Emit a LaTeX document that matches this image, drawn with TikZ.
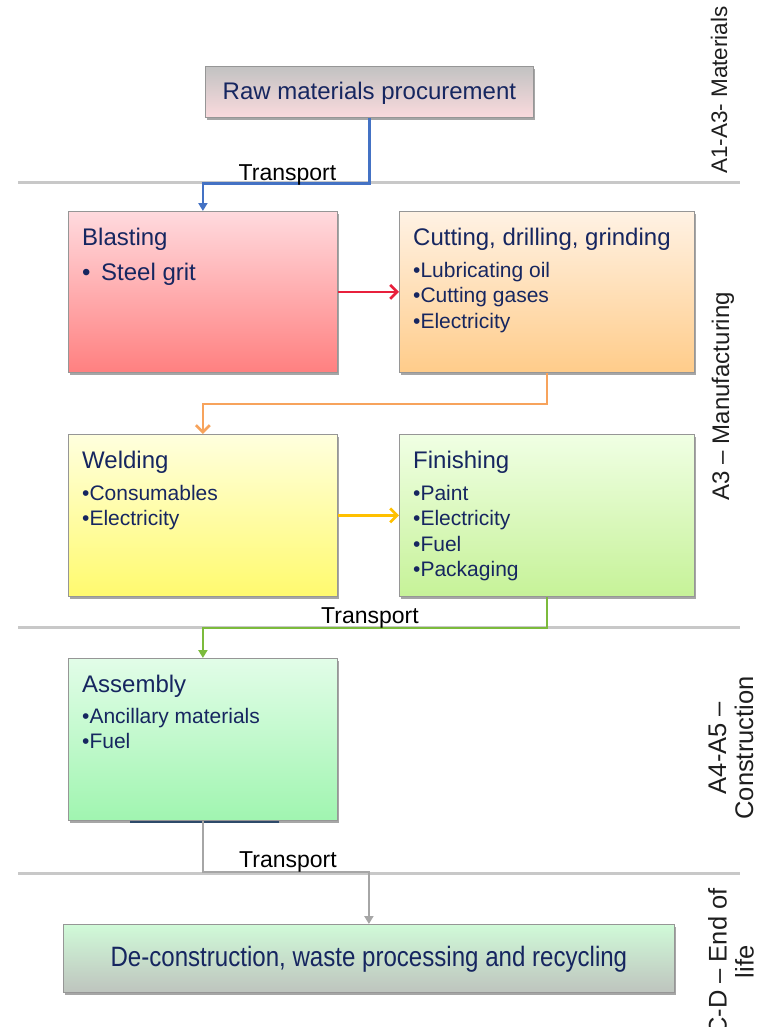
\documentclass[tikz,border=0pt]{standalone}
\usepackage{fontspec}
\setmainfont{Liberation Sans}
\usetikzlibrary{arrows.meta,shadows}
\definecolor{navy}{RGB}{22,38,96}
\definecolor{boxline}{RGB}{150,150,150}
\definecolor{sectgray}{RGB}{200,200,200}
\definecolor{cblue}{RGB}{68,114,196}
\definecolor{cred}{RGB}{232,32,60}
\definecolor{corange}{RGB}{247,163,92}
\definecolor{cyellow}{RGB}{255,192,0}
\definecolor{cgreen}{RGB}{124,187,60}
\definecolor{cgray}{RGB}{166,166,166}
\definecolor{darkline}{RGB}{46,74,106}
\definecolor{labeltxt}{RGB}{30,30,30}
\begin{document}
\begin{tikzpicture}[x=1pt,y=-1pt,
  box/.style={draw=boxline, line width=0.8pt, inner sep=0pt, anchor=north west,
    drop shadow={shadow xshift=2pt,shadow yshift=-2.5pt,opacity=0.35,fill=black}},
  title/.style={anchor=base west, inner sep=0pt, text=navy, font=\fontsize{24}{28}\selectfont},
  item/.style={anchor=base west, inner sep=0pt, text=navy, font=\fontsize{21}{25}\selectfont},
  sect/.style={rotate=90, text=labeltxt, align=center, inner sep=0pt},
  sectline/.style={draw=sectgray, line width=3pt},
  conn/.style={line width=2.6pt},
  filltip/.style={-{Triangle[length=8pt,width=9pt]}},
  barbtip/.style={-{Straight Barb[length=7pt,width=14pt]}},
  trans/.style={anchor=base, inner sep=0pt, text=black, font=\fontsize{23}{27}\selectfont}
]
\useasboundingbox (0,0) rectangle (763,1027);

% section separators
\coordinate (s1a) at (18,183); \coordinate (s1b) at (740,183);
\coordinate (s2a) at (18,627); \coordinate (s2b) at (740,627);
\coordinate (s3a) at (18,873); \coordinate (s3b) at (740,873);
\draw[sectline] (s1a) -- (s1b);
\draw[sectline] (s2a) -- (s2b);
\draw[sectline] (s3a) -- (s3b);

% boxes
\node[box, minimum width=328pt, minimum height=51pt, top color={rgb,255:red,194;green,194;blue,194}, bottom color={rgb,255:red,250;green,218;blue,221}] (raw) at (205,66) {};
\node[text=navy, font=\fontsize{24}{28}\selectfont, inner sep=0pt] (rawT) at ([yshift=-1pt]raw.center) {Raw materials procurement};

\node[box, minimum width=269pt, minimum height=161pt, top color={rgb,255:red,255;green,218;blue,222}, bottom color={rgb,255:red,255;green,128;blue,128}] (blast) at (68,211) {};
\node[box, minimum width=295pt, minimum height=161pt, top color={rgb,255:red,255;green,242;blue,228}, bottom color={rgb,255:red,255;green,204;blue,138}] (cut) at (399,211) {};
\node[box, minimum width=269pt, minimum height=162pt, top color={rgb,255:red,255;green,255;blue,222}, bottom color={rgb,255:red,255;green,250;blue,110}] (weld) at (68,434) {};
\node[box, minimum width=295pt, minimum height=162pt, top color={rgb,255:red,240;green,255;blue,228}, bottom color={rgb,255:red,198;green,242;blue,152}] (fin) at (399,434) {};
\node[box, minimum width=269pt, minimum height=162pt, top color={rgb,255:red,226;green,253;blue,232}, bottom color={rgb,255:red,160;green,245;blue,176}] (asm) at (68,658) {};
\node[box, minimum width=611pt, minimum height=68pt, top color={rgb,255:red,208;green,250;blue,216}, middle color={rgb,255:red,198;green,232;blue,200}, bottom color={rgb,255:red,190;green,196;blue,190}] (dec) at (63,924) {};
\node[text=navy, font=\fontsize{28}{32}\selectfont, inner sep=0pt, xscale=0.86] (decT) at ([yshift=-1pt]dec.center) {De-construction, waste processing and recycling};

% box texts
\node[title] (blastT) at ([xshift=14pt,yshift=-34pt]blast.north west) {Blasting};
\node[title] (blastI1) at ([xshift=14pt,yshift=-69pt]blast.north west) {\makebox[19pt][l]{•}Steel grit};

\node[title] (cutT) at ([xshift=14pt,yshift=-34pt]cut.north west) {Cutting, drilling, grinding};
\node[item] (cutI1) at ([xshift=14pt,yshift=-66pt]cut.north west) {•Lubricating oil};
\node[item] (cutI2) at ([xshift=14pt,yshift=-91.5pt]cut.north west) {•Cutting gases};
\node[item] (cutI3) at ([xshift=14pt,yshift=-117pt]cut.north west) {•Electricity};

\node[title] (weldT) at ([xshift=14pt,yshift=-34pt]weld.north west) {Welding};
\node[item] (weldI1) at ([xshift=14pt,yshift=-66pt]weld.north west) {•Consumables};
\node[item] (weldI2) at ([xshift=14pt,yshift=-91.5pt]weld.north west) {•Electricity};

\node[title] (finT) at ([xshift=14pt,yshift=-34pt]fin.north west) {Finishing};
\node[item] (finI1) at ([xshift=14pt,yshift=-66pt]fin.north west) {•Paint};
\node[item] (finI2) at ([xshift=14pt,yshift=-91.5pt]fin.north west) {•Electricity};
\node[item] (finI3) at ([xshift=14pt,yshift=-117pt]fin.north west) {•Fuel};
\node[item] (finI4) at ([xshift=14pt,yshift=-142.5pt]fin.north west) {•Packaging};

\node[title] (asmT) at ([xshift=14pt,yshift=-34pt]asm.north west) {Assembly};
\node[item] (asmI1) at ([xshift=14pt,yshift=-65pt]asm.north west) {•Ancillary materials};
\node[item] (asmI2) at ([xshift=14pt,yshift=-90.5pt]asm.north west) {•Fuel};

% dark line under assembly
\draw[draw=darkline, line width=2pt] ([xshift=62pt,yshift=-1pt]asm.south west) -- ([xshift=211pt,yshift=-1pt]asm.south west);

% connectors
\draw[conn, draw=cblue, filltip] (raw.south) -- ++(0,66) -| (blast.north);
\draw[conn, draw=cred, barbtip] (blast.east) -- (cut.west);
\draw[conn, draw=corange, barbtip] (cut.south) -- ++(0,31) -| (weld.north);
\draw[conn, draw=cyellow, barbtip] (weld.east) -- (fin.west);
\draw[conn, draw=cgreen, filltip] (fin.south) -- ++(0,31) -| (asm.north);
\draw[conn, draw=cgray, filltip] (asm.south) -- ++(0,51) -| (dec.north);

% transport labels
\node[trans] (tr1) at (287.5,180) {Transport};
\node[trans] (tr2) at (370,623) {Transport};
\node[trans] (tr3) at (288,867) {Transport};

% section labels
\node[sect, font=\fontsize{22.5}{26}\selectfont] (lab1) at (719,90) {A1-A3- Materials};
\node[sect, font=\fontsize{24}{28}\selectfont] (lab2) at (723,396) {A3 – Manufacturing};
\node[sect, font=\fontsize{25.5}{27}\selectfont] (lab3) at (731,748) {A4-A5 –\\Construction};
\node[sect, font=\fontsize{25.5}{27}\selectfont] (lab4) at (731,962) {C-D – End of\\life};
\end{tikzpicture}
\end{document}
